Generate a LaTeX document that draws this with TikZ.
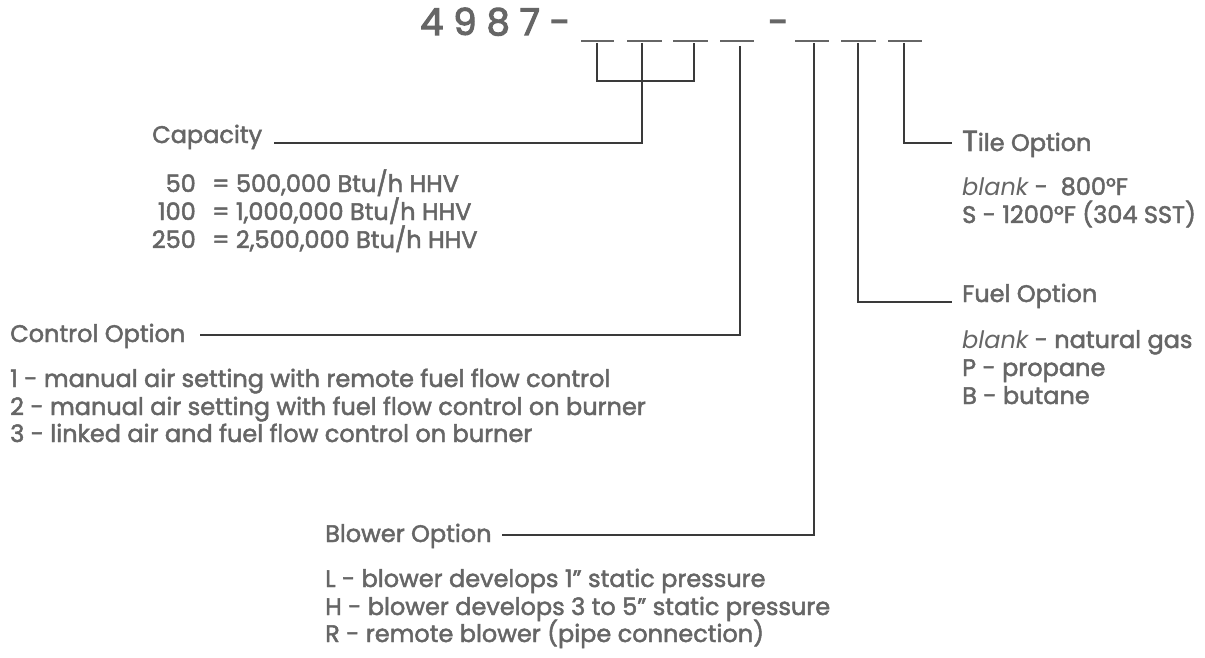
\documentclass[tikz,border=0pt]{standalone}
\usepackage{fontspec}
\setmainfont{Poppins}
\definecolor{txt}{HTML}{666666}
\definecolor{ln}{HTML}{3A3A3A}
\tikzset{
  bodyfont/.style={font=\fontsize{24}{28}\selectfont\addfontfeature{FakeBold=2}},
  lbl/.style={anchor=base west, inner sep=0pt, text=txt, bodyfont},
  lble/.style={anchor=base east, inner sep=0pt, text=txt, bodyfont},
  ttl/.style={anchor=base west, inner sep=0pt, text=txt, font=\fontsize{37}{40}\selectfont\addfontfeature{FakeBold=3}},
  conn/.style={draw=ln, line width=1.2pt},
  slotline/.style={draw=txt, line width=1.6pt},
}
\begin{document}
\begin{tikzpicture}[x=1pt,y=-1pt]
\useasboundingbox (0,0) rectangle (1205,658);
\fill[white] (0,0) rectangle (1205,658);
% part number
\node[ttl] (code) at (420,35) {4 9 8 7 -};
\node[ttl] (dash2) at (768,35) {-};
\foreach \a/\b in {581/614,627/662,673/708,720/754,795/829,841/876,888/922}
  \draw[slotline] (\a,41) -- (\b,41);
\coordinate (u1) at (597,43);
\coordinate (u2) at (642,43);
\coordinate (u3) at (694,43);
\coordinate (u4) at (740,46);
\coordinate (u5) at (814,43);
\coordinate (u6) at (858,43);
\coordinate (u7) at (904,43);
\coordinate (br) at (642,81);
% capacity
\node[lbl] (cap) at (152,143) {Capacity};
\node[lble] (c1n) at (196,192) {50};
\node[lbl] (c1) at (212,192) {= 500,000 Btu/h HHV};
\node[lble] (c2n) at (196,220) {100};
\node[lbl] (c2) at (212,220) {= 1,000,000 Btu/h HHV};
\node[lble] (c3n) at (196,248) {250};
\node[lbl] (c3) at (212,248) {= 2,500,000 Btu/h HHV};
% control
\node[lbl] (ctl) at (10,342) {Control Option};
\node[lbl] (ctl1) at (10,387) {1 - manual air setting with remote fuel flow control};
\node[lbl] (ctl2) at (10,415) {2 - manual air setting with fuel flow control on burner};
\node[lbl] (ctl3) at (10,442) {3 - linked air and fuel flow control on burner};
% blower
\node[lbl] (blw) at (325,542) {Blower Option};
\node[lbl] (blw1) at (325,587) {L - blower develops 1" static pressure};
\node[lbl] (blw2) at (325,615) {H - blower develops 3 to 5" static pressure};
\node[lbl] (blw3) at (325,642) {R - remote blower (pipe connection)};
% fuel
\node[lbl] (fuel) at (962,302) {Fuel Option};
\node[lbl] (fuel1) at (962,348) {{\itshape\addfontfeature{FakeBold=0} blank} - natural gas};
\node[lbl] (fuel2) at (962,376) {P - propane};
\node[lbl] (fuel3) at (962,404) {B - butane};
% tile
\node[lbl] (tile) at (962,151) {{\fontsize{29}{29}\selectfont T}ile Option};
\node[lbl] (tile1) at (962,195) {{\itshape\addfontfeature{FakeBold=0} blank} -\ \ 800°F};
\node[lbl] (tile2) at (962,223) {S - 1200°F (304 SST)};
% connectors
\draw[conn] (u1) -- (u1 |- br) -- (u3 |- br) -- (u3);
\draw[conn] (u2) |- ([xshift=12pt]cap.base east);
\draw[conn] (u4) |- ([xshift=15pt,yshift=7pt]ctl.base east);
\draw[conn] (u5) |- ([xshift=10pt,yshift=7pt]blw.base east);
\draw[conn] (u6) |- ([xshift=-10pt]fuel.base west);
\draw[conn] (u7) |- ([xshift=-10pt,yshift=8pt]tile.base west);
\end{tikzpicture}
\end{document}
